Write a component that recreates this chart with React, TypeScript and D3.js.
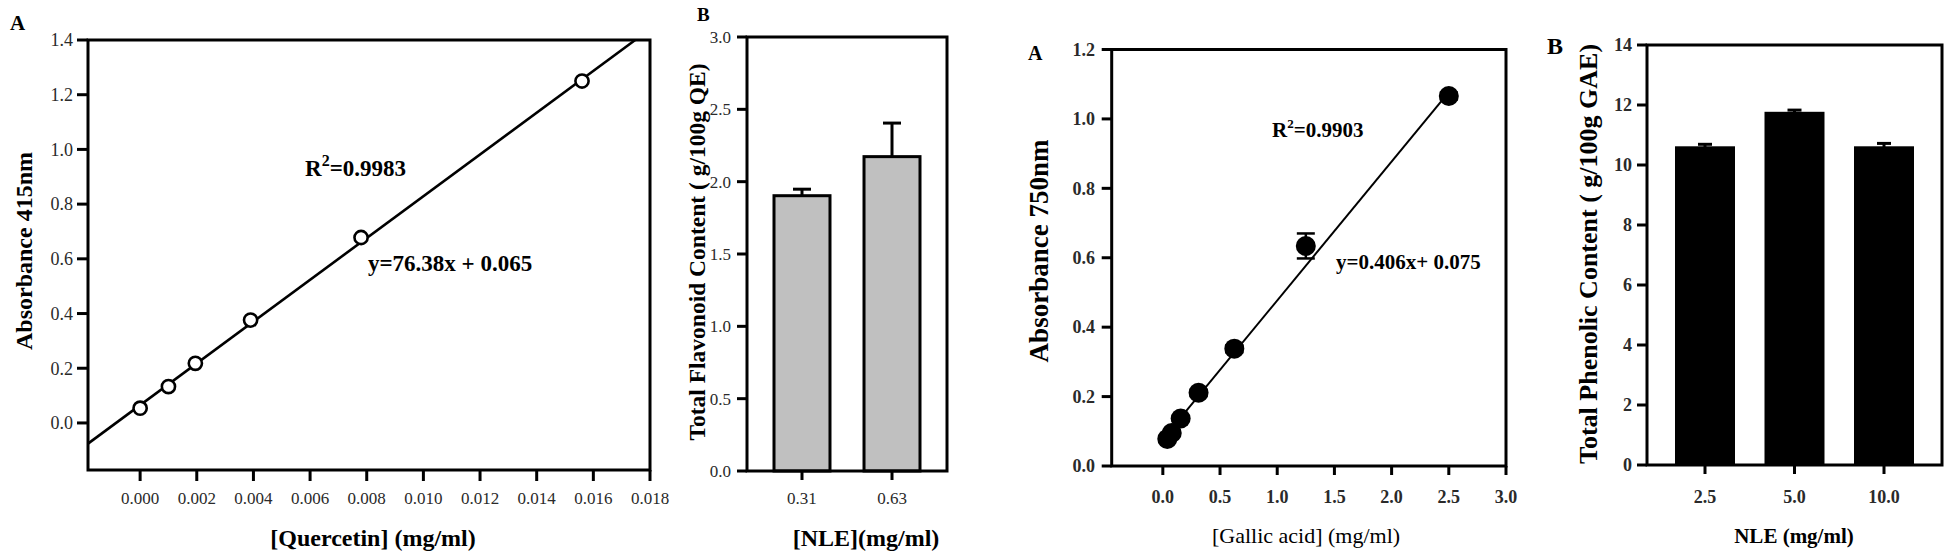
import React from "react";
import * as d3 from "d3";

// ---------- Data ----------
// Panel 1 (A): quercetin calibration
const quercetinConc = [0, 0.001, 0.00195, 0.0039, 0.0078, 0.0156];
const quercetinAbs = [0.054, 0.133, 0.218, 0.376, 0.678, 1.25];
const quercetinFit = { slope: 76.38, intercept: 0.065 };
const quercetinXTicks = [0, 0.002, 0.004, 0.006, 0.008, 0.01, 0.012, 0.014, 0.016, 0.018];
const quercetinYTicks = [0, 0.2, 0.4, 0.6, 0.8, 1.0, 1.2, 1.4];

// Panel 2 (B): flavonoid content
const flavCategories = ["0.31", "0.63"];
const flavValues = [1.903, 2.173];
const flavErrors = [0.045, 0.232];
const flavYTicks = [0, 0.5, 1.0, 1.5, 2.0, 2.5, 3.0];

// Panel 3 (A): gallic acid calibration
const gallicConc = [0.039, 0.078, 0.156, 0.3125, 0.625, 1.25, 2.5];
const gallicAbs = [0.078, 0.095, 0.137, 0.211, 0.338, 0.634, 1.066];
const gallicErr = [0.004, 0.006, 0.006, 0.008, 0.01, 0.036, 0.01];
const gallicFit = { slope: 0.4, intercept: 0.077 };
const gallicXTicks = [0, 0.5, 1.0, 1.5, 2.0, 2.5, 3.0];
const gallicYTicks = [0, 0.2, 0.4, 0.6, 0.8, 1.0, 1.2];

// Panel 4 (B): phenolic content
const phenCategories = ["2.5", "5.0", "10.0"];
const phenValues = [10.59, 11.74, 10.59];
const phenErrors = [0.1, 0.09, 0.13];
const phenYTicks = [0, 2, 4, 6, 8, 10, 12, 14];

const FONT = "'Liberation Serif', 'Times New Roman', serif";
const TICK_COLOR = "#2a2a2a";

function Frame({ x0, x1, y0, y1, sw = 3 }: any) {
  return (
    <rect x={x0} y={y0} width={x1 - x0} height={y1 - y0} fill="none" stroke="#000" strokeWidth={sw} />
  );
}

export default function App() {
  // ---------- Panel 1 ----------
  const x1 = d3.scaleLinear().domain([-0.00184, 0.018]).range([88, 650]);
  const y1 = d3.scaleLinear().domain([-0.172, 1.4]).range([470, 40]);
  const qx0 = x1.domain()[0];
  const qx1 = Math.min(x1.domain()[1], (y1.domain()[1] - quercetinFit.intercept) / quercetinFit.slope);
  const qLine = d3.line<number>()
    .x((d) => x1(d))
    .y((d) => y1(quercetinFit.slope * d + quercetinFit.intercept))([qx0, qx1]);

  // ---------- Panel 2 ----------
  const x2 = d3.scaleBand<string>().domain(flavCategories).range([747, 947]).paddingInner(0.378).paddingOuter(0.3);
  const y2 = d3.scaleLinear().domain([0, 3]).range([471, 37]);

  // ---------- Panel 3 ----------
  const x3 = d3.scaleLinear().domain([-0.447, 3.0]).range([1111.7, 1506]);
  const y3 = d3.scaleLinear().domain([0, 1.2]).range([466, 49.5]);
  const gLine = d3.line<number>()
    .x((d) => x3(d))
    .y((d) => y3(gallicFit.slope * d + gallicFit.intercept))([gallicConc[0], gallicConc[gallicConc.length - 1]]);

  // ---------- Panel 4 ----------
  const x4 = d3.scaleBand<string>().domain(phenCategories).range([1647, 1942]).paddingInner(0.352).paddingOuter(0.324);
  const y4 = d3.scaleLinear().domain([0, 14]).range([465, 45]);

  return (
    <svg
      width={1946}
      height={552}
      style={{ position: "absolute", left: 0, top: 0, background: "#fff" }}
      fontFamily={FONT}
    >
      <rect x={0} y={0} width={1946} height={552} fill="#fff" />

      {/* ================= Panel 1 ================= */}
      <text x={10} y={30} fontSize={21} fontWeight="bold">A</text>
      {quercetinYTicks.map((t) => (
        <g key={"q-y" + t}>
          <line x1={77} x2={88} y1={y1(t)} y2={y1(t)} stroke="#000" strokeWidth={3} />
          <text x={73} y={y1(t)} dy="0.35em" textAnchor="end" fontSize={18} fill={TICK_COLOR}>
            {t.toFixed(1)}
          </text>
        </g>
      ))}
      {quercetinXTicks.map((t) => (
        <g key={"q-x" + t}>
          <line x1={x1(t)} x2={x1(t)} y1={470} y2={481} stroke="#000" strokeWidth={3} />
          <text x={x1(t)} y={504} textAnchor="middle" fontSize={17} fill={TICK_COLOR}>
            {t.toFixed(3)}
          </text>
        </g>
      ))}
      <path d={qLine || ""} stroke="#000" strokeWidth={2.6} fill="none" />
      {quercetinConc.map((c, i) => (
        <circle key={"q-pt" + i} cx={x1(c)} cy={y1(quercetinAbs[i])} r={6.6} fill="#fff" stroke="#000" strokeWidth={2.6} />
      ))}
      <Frame x0={88} x1={650} y0={40} y1={470} />
      <text x={305} y={176} fontSize={23} fontWeight="bold">
        R<tspan fontSize={16} dy={-10}>2</tspan>
        <tspan dy={10}>=0.9983</tspan>
      </text>
      <text x={368} y={271} fontSize={23} fontWeight="bold">y=76.38x + 0.065</text>
      <text transform="translate(32,251) rotate(-90)" textAnchor="middle" fontSize={24} fontWeight="bold">
        Absorbance 415nm
      </text>
      <text x={373} y={546} textAnchor="middle" fontSize={24} fontWeight="bold">[Quercetin] (mg/ml)</text>

      {/* ================= Panel 2 ================= */}
      <text x={697} y={21} fontSize={19} fontWeight="bold">B</text>
      {flavYTicks.map((t) => (
        <g key={"f-y" + t}>
          <line x1={737} x2={747} y1={y2(t)} y2={y2(t)} stroke="#000" strokeWidth={3} />
          <text x={731} y={y2(t)} dy="0.35em" textAnchor="end" fontSize={17} fill={TICK_COLOR}>
            {t.toFixed(1)}
          </text>
        </g>
      ))}
      {flavCategories.map((c, i) => {
        const bx = x2(c) as number;
        const bw = x2.bandwidth();
        const cx = bx + bw / 2;
        return (
          <g key={"f-bar" + c}>
            <line x1={cx} x2={cx} y1={y2(flavValues[i])} y2={y2(flavValues[i] + flavErrors[i])} stroke="#000" strokeWidth={3} />
            <line x1={cx - 9} x2={cx + 9} y1={y2(flavValues[i] + flavErrors[i])} y2={y2(flavValues[i] + flavErrors[i])} stroke="#000" strokeWidth={3} />
            <rect x={bx} y={y2(flavValues[i])} width={bw} height={y2(0) - y2(flavValues[i])} fill="#c0c0c0" stroke="#000" strokeWidth={3} />
            <line x1={cx} x2={cx} y1={471} y2={480} stroke="#000" strokeWidth={3} />
            <text x={cx} y={504} textAnchor="middle" fontSize={17} fill={TICK_COLOR}>{c}</text>
          </g>
        );
      })}
      <Frame x0={747} x1={947} y0={37} y1={471} />
      <text transform="translate(705,252) rotate(-90)" textAnchor="middle" fontSize={23.5} fontWeight="bold">
        Total Flavonoid Content ( g/100g QE)
      </text>
      <text x={866} y={546} textAnchor="middle" fontSize={24} fontWeight="bold">[NLE](mg/ml)</text>

      {/* ================= Panel 3 ================= */}
      <text x={1028} y={60} fontSize={20} fontWeight="bold">A</text>
      {gallicYTicks.map((t) => (
        <g key={"g-y" + t}>
          <line x1={1101.7} x2={1111.7} y1={y3(t)} y2={y3(t)} stroke="#000" strokeWidth={3} />
          <text x={1095} y={y3(t)} dy="0.35em" textAnchor="end" fontSize={18} fontWeight="bold" fill={TICK_COLOR}>
            {t.toFixed(1)}
          </text>
        </g>
      ))}
      {gallicXTicks.map((t) => (
        <g key={"g-x" + t}>
          <line x1={x3(t)} x2={x3(t)} y1={466} y2={475} stroke="#000" strokeWidth={3} />
          <text x={x3(t)} y={503} textAnchor="middle" fontSize={18} fontWeight="bold" fill={TICK_COLOR}>
            {t.toFixed(1)}
          </text>
        </g>
      ))}
      <path d={gLine || ""} stroke="#000" strokeWidth={2} fill="none" />
      {gallicConc.map((c, i) => (
        <g key={"g-pt" + i}>
          <line x1={x3(c)} x2={x3(c)} y1={y3(gallicAbs[i] - gallicErr[i])} y2={y3(gallicAbs[i] + gallicErr[i])} stroke="#000" strokeWidth={2.5} />
          <line x1={x3(c) - 9} x2={x3(c) + 9} y1={y3(gallicAbs[i] + gallicErr[i])} y2={y3(gallicAbs[i] + gallicErr[i])} stroke="#000" strokeWidth={2.5} />
          <line x1={x3(c) - 9} x2={x3(c) + 9} y1={y3(gallicAbs[i] - gallicErr[i])} y2={y3(gallicAbs[i] - gallicErr[i])} stroke="#000" strokeWidth={2.5} />
          <circle cx={x3(c)} cy={y3(gallicAbs[i])} r={10} fill="#000" />
        </g>
      ))}
      <Frame x0={1111.7} x1={1506} y0={49.5} y1={466} />
      <text x={1272} y={137} fontSize={21} fontWeight="bold">
        R<tspan fontSize={13} dy={-9}>2</tspan>
        <tspan dy={9}>=0.9903</tspan>
      </text>
      <text x={1336} y={269} fontSize={21} fontWeight="bold">y=0.406x+ 0.075</text>
      <text transform="translate(1048,251) rotate(-90)" textAnchor="middle" fontSize={27} fontWeight="bold">
        Absorbance 750nm
      </text>
      <text x={1306} y={543} textAnchor="middle" fontSize={22}>[Gallic acid] (mg/ml)</text>

      {/* ================= Panel 4 ================= */}
      <text x={1547} y={54} fontSize={24} fontWeight="bold">B</text>
      {phenYTicks.map((t) => (
        <g key={"p-y" + t}>
          <line x1={1637} x2={1647} y1={y4(t)} y2={y4(t)} stroke="#000" strokeWidth={3} />
          <text x={1632} y={y4(t)} dy="0.35em" textAnchor="end" fontSize={18} fontWeight="bold" fill={TICK_COLOR}>
            {t}
          </text>
        </g>
      ))}
      {phenCategories.map((c, i) => {
        const bx = x4(c) as number;
        const bw = x4.bandwidth();
        const cx = bx + bw / 2;
        return (
          <g key={"p-bar" + c}>
            <line x1={cx} x2={cx} y1={y4(phenValues[i])} y2={y4(phenValues[i] + phenErrors[i])} stroke="#000" strokeWidth={3} />
            <line x1={cx - 7} x2={cx + 7} y1={y4(phenValues[i] + phenErrors[i])} y2={y4(phenValues[i] + phenErrors[i])} stroke="#000" strokeWidth={3} />
            <rect x={bx} y={y4(phenValues[i])} width={bw} height={y4(0) - y4(phenValues[i])} fill="#000" stroke="#000" strokeWidth={2} />
            <line x1={cx} x2={cx} y1={465} y2={474} stroke="#000" strokeWidth={3} />
            <text x={cx} y={503} textAnchor="middle" fontSize={18} fontWeight="bold" fill={TICK_COLOR}>{c}</text>
          </g>
        );
      })}
      <Frame x0={1647} x1={1942} y0={45} y1={465} />
      <text transform="translate(1597,254) rotate(-90)" textAnchor="middle" fontSize={26} fontWeight="bold">
        Total Phenolic Content ( g/100g GAE)
      </text>
      <text x={1794} y={543} textAnchor="middle" fontSize={21} fontWeight="bold">NLE (mg/ml)</text>
    </svg>
  );
}
